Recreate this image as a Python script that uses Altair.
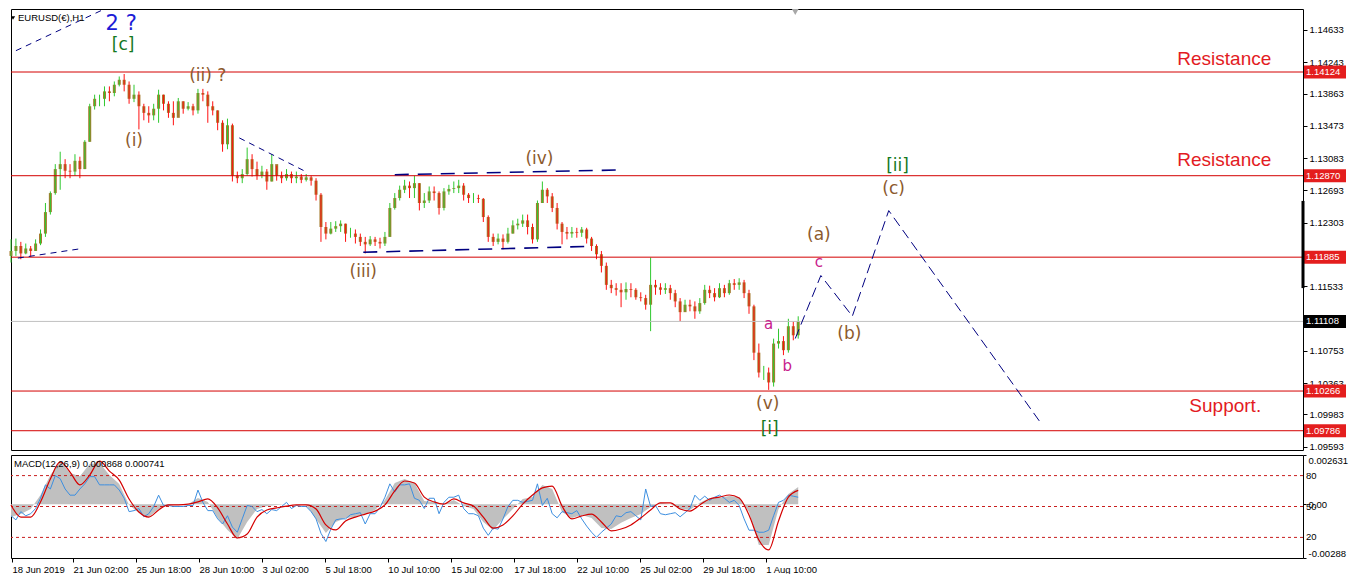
import json
import altair as alt
import pandas as pd

# ----------------------------------------------------------------- data
# EURUSD H1, condensed: one candle per 5 hours, hour index counted from 18 Jun 2019
HOURS_PER_CANDLE = 5
first_open = 1.1190
closes = [
    1.1196, 1.1202, 1.1193, 1.1199, 1.1196, 1.1205, 1.1217, 1.1243, 1.1266, 1.1295,
    1.1301, 1.1293, 1.1292, 1.1305, 1.1295, 1.1328, 1.1371, 1.1380, 1.1380, 1.1389,
    1.1387, 1.1397, 1.1403, 1.1397, 1.1380, 1.1385, 1.1371, 1.1363, 1.1360, 1.1368,
    1.1385, 1.1374, 1.1363, 1.1357, 1.1377, 1.1368, 1.1371, 1.1366, 1.1387, 1.1385,
    1.1371, 1.1366, 1.1351, 1.1325, 1.1348, 1.1287, 1.1284, 1.1289, 1.1307, 1.1295,
    1.1287, 1.1292, 1.1280, 1.1301, 1.1287, 1.1284, 1.1289, 1.1284, 1.1286, 1.1282,
    1.1285, 1.1281, 1.1264, 1.1225, 1.1217, 1.1223, 1.1226, 1.1229, 1.1217, 1.1217,
    1.1213, 1.1207, 1.1204, 1.1210, 1.1207, 1.1205, 1.1213, 1.1248, 1.1260, 1.1270,
    1.1275, 1.1272, 1.1278, 1.1254, 1.1257, 1.1268, 1.1266, 1.1248, 1.1268, 1.1271,
    1.1272, 1.1275, 1.1264, 1.1260, 1.1260, 1.1259, 1.1237, 1.1213, 1.1207, 1.1211,
    1.1207, 1.1217, 1.1227, 1.1229, 1.1233, 1.1225, 1.1210, 1.1254, 1.1270, 1.1262,
    1.1248, 1.1229, 1.1219, 1.1217, 1.1219, 1.1218, 1.1222, 1.1211, 1.1202, 1.1192,
    1.1178, 1.1155, 1.1151, 1.1149, 1.1146, 1.1150, 1.1149, 1.1140, 1.1139, 1.1131,
    1.1155, 1.1152, 1.1149, 1.1151, 1.1145, 1.1135, 1.1122, 1.1131, 1.1129, 1.1123,
    1.1133, 1.1149, 1.1145, 1.1140, 1.1151, 1.1145, 1.1157, 1.1155, 1.1158, 1.1145,
    1.1129, 1.1073, 1.1049, 1.1049, 1.1037, 1.1084, 1.1087, 1.1076, 1.1105, 1.1094,
    1.1111,
]
highs = [
    1.1210, 1.1211, 1.1207, 1.1205, 1.1202, 1.1210, 1.1222, 1.1254, 1.1268, 1.1301,
    1.1316, 1.1307, 1.1301, 1.1313, 1.1310, 1.1330, 1.1374, 1.1385, 1.1385, 1.1395,
    1.1395, 1.1401, 1.1407, 1.1410, 1.1401, 1.1397, 1.1389, 1.1374, 1.1371, 1.1374,
    1.1391, 1.1385, 1.1377, 1.1377, 1.1381, 1.1377, 1.1376, 1.1374, 1.1392, 1.1392,
    1.1389, 1.1377, 1.1366, 1.1354, 1.1356, 1.1350, 1.1292, 1.1295, 1.1321, 1.1313,
    1.1304, 1.1299, 1.1295, 1.1313, 1.1299, 1.1292, 1.1295, 1.1292, 1.1292, 1.1289,
    1.1289, 1.1287, 1.1284, 1.1266, 1.1231, 1.1231, 1.1232, 1.1233, 1.1229, 1.1224,
    1.1222, 1.1217, 1.1213, 1.1214, 1.1213, 1.1212, 1.1219, 1.1254, 1.1266, 1.1275,
    1.1282, 1.1280, 1.1287, 1.1278, 1.1266, 1.1274, 1.1274, 1.1268, 1.1272, 1.1276,
    1.1280, 1.1282, 1.1278, 1.1266, 1.1266, 1.1264, 1.1260, 1.1239, 1.1217, 1.1217,
    1.1216, 1.1224, 1.1233, 1.1235, 1.1240, 1.1240, 1.1229, 1.1257, 1.1280, 1.1272,
    1.1266, 1.1254, 1.1231, 1.1225, 1.1225, 1.1224, 1.1225, 1.1224, 1.1213, 1.1204,
    1.1196, 1.1182, 1.1161, 1.1157, 1.1157, 1.1158, 1.1157, 1.1151, 1.1146, 1.1143,
    1.1188, 1.1161, 1.1157, 1.1157, 1.1155, 1.1149, 1.1139, 1.1137, 1.1137, 1.1135,
    1.1139, 1.1155, 1.1154, 1.1151, 1.1157, 1.1155, 1.1161, 1.1162, 1.1163, 1.1161,
    1.1149, 1.1131, 1.1084, 1.1057, 1.1055, 1.1090, 1.1102, 1.1093, 1.1114, 1.1111,
    1.1117,
]
lows = [
    1.1182, 1.1190, 1.1186, 1.1192, 1.1189, 1.1196, 1.1203, 1.1213, 1.1240, 1.1264,
    1.1270, 1.1284, 1.1284, 1.1287, 1.1284, 1.1295, 1.1328, 1.1367, 1.1371, 1.1371,
    1.1377, 1.1383, 1.1395, 1.1389, 1.1374, 1.1376, 1.1343, 1.1354, 1.1351, 1.1354,
    1.1351, 1.1366, 1.1357, 1.1348, 1.1366, 1.1362, 1.1366, 1.1360, 1.1362, 1.1377,
    1.1351, 1.1360, 1.1342, 1.1316, 1.1319, 1.1280, 1.1278, 1.1278, 1.1287, 1.1286,
    1.1282, 1.1284, 1.1270, 1.1280, 1.1281, 1.1278, 1.1281, 1.1278, 1.1278, 1.1278,
    1.1280, 1.1275, 1.1257, 1.1207, 1.1210, 1.1216, 1.1219, 1.1219, 1.1207, 1.1212,
    1.1205, 1.1202, 1.1193, 1.1202, 1.1202, 1.1199, 1.1202, 1.1213, 1.1246, 1.1257,
    1.1266, 1.1260, 1.1260, 1.1245, 1.1248, 1.1254, 1.1257, 1.1240, 1.1245, 1.1264,
    1.1266, 1.1266, 1.1257, 1.1254, 1.1254, 1.1254, 1.1231, 1.1207, 1.1202, 1.1204,
    1.1198, 1.1205, 1.1217, 1.1222, 1.1225, 1.1216, 1.1205, 1.1207, 1.1254, 1.1254,
    1.1243, 1.1222, 1.1204, 1.1210, 1.1212, 1.1212, 1.1213, 1.1205, 1.1196, 1.1186,
    1.1170, 1.1149, 1.1145, 1.1142, 1.1128, 1.1137, 1.1140, 1.1137, 1.1135, 1.1125,
    1.1099, 1.1143, 1.1143, 1.1144, 1.1137, 1.1128, 1.1111, 1.1123, 1.1123, 1.1114,
    1.1120, 1.1131, 1.1139, 1.1135, 1.1139, 1.1140, 1.1143, 1.1149, 1.1149, 1.1139,
    1.1120, 1.1064, 1.1043, 1.1040, 1.1028, 1.1032, 1.1078, 1.1070, 1.1073, 1.1088,
    1.1090,
]

# MACD(12,26,9): main (grey histogram) and signal (red), one value per 10 hours
MACD_STEP = 10
macd_main = [
    -0.00069, -0.00053, -0.00026, 0.00049, 0.00156, 0.00230, 0.00167, 0.00150, 0.00215, 0.00220,
    0.00156, 0.00108, -0.00004, -0.00047, -0.00069, -0.00026, -0.00004, -0.00004, 0.00000, 0.00033,
    0.00012, -0.00074, -0.00138, -0.00186, -0.00095, -0.00026, -0.00010, -0.00004, 0.00000, 0.00000,
    -0.00004, -0.00079, -0.00154, -0.00095, -0.00074, -0.00069, -0.00053, -0.00031, 0.00022, 0.00113,
    0.00135, 0.00113, 0.00017, 0.00012, 0.00000, 0.00022, -0.00010, -0.00026, -0.00095, -0.00138,
    -0.00079, -0.00026, 0.00028, 0.00038, 0.00103, 0.00081, -0.00042, -0.00074, -0.00058, -0.00074,
    -0.00128, -0.00133, -0.00100, -0.00074, -0.00053, -0.00015, 0.00007, 0.00000, -0.00026, -0.00031,
    0.00007, 0.00033, 0.00033, 0.00044, 0.00038, -0.00042, -0.00218, -0.00218, -0.00026, 0.00054,
    0.00092,
]
macd_signal = [
    -0.00004, -0.00069, -0.00069, 0.00012, 0.00135, 0.00226, 0.00172, 0.00103, 0.00156, 0.00230,
    0.00177, 0.00129, 0.00028, -0.00042, -0.00069, -0.00031, -0.00004, -0.00004, 0.00000, 0.00012,
    0.00028, -0.00020, -0.00106, -0.00181, -0.00160, -0.00069, -0.00031, -0.00020, -0.00010, -0.00004,
    -0.00004, -0.00026, -0.00111, -0.00138, -0.00090, -0.00069, -0.00053, -0.00037, -0.00004, 0.00071,
    0.00124, 0.00113, 0.00038, 0.00012, 0.00000, 0.00028, 0.00007, -0.00010, -0.00069, -0.00128,
    -0.00111, -0.00063, 0.00000, 0.00049, 0.00087, 0.00097, -0.00010, -0.00079, -0.00063, -0.00053,
    -0.00095, -0.00143, -0.00133, -0.00111, -0.00074, -0.00031, 0.00007, 0.00007, -0.00026, -0.00037,
    -0.00004, 0.00028, 0.00038, 0.00049, 0.00033, -0.00058, -0.00192, -0.00245, -0.00090, 0.00038,
    0.00074,
]
# 0-100 oscillator drawn in the same window (blue), one value per 5 hours
OSC_STEP = 5
osc_values = [
    41, 37, 45, 41, 43, 48, 58, 71, 67, 80,
    77, 67, 61, 61, 67, 72, 79, 79, 71, 71,
    71, 71, 66, 58, 45, 46, 48, 40, 43, 50,
    61, 51, 51, 50, 50, 50, 51, 51, 66, 54,
    46, 46, 38, 33, 41, 30, 25, 38, 51, 50,
    45, 47, 43, 47, 46, 50, 54, 48, 51, 50,
    50, 45, 38, 24, 16, 28, 37, 38, 38, 42,
    43, 44, 33, 43, 43, 49, 59, 72, 64, 71,
    71, 72, 58, 56, 48, 58, 58, 43, 54, 59,
    59, 61, 48, 43, 43, 41, 29, 22, 29, 28,
    38, 50, 56, 56, 54, 55, 56, 72, 51, 58,
    43, 39, 45, 44, 43, 46, 38, 31, 25, 20,
    25, 29, 33, 41, 40, 44, 45, 41, 37, 67,
    50, 51, 43, 42, 43, 44, 40, 44, 48, 61,
    56, 60, 56, 59, 61, 58, 54, 56, 51, 38,
    27, 27, 25, 25, 27, 41, 54, 56, 61, 60,
    59,
]
osc_levels = [80, 50, 20]

level_prices = [1.14124, 1.12870, 1.11885, 1.10266, 1.09786]
last_price = 1.11108
price_ticks = [1.14633, 1.14243, 1.13863, 1.13473, 1.13083, 1.12693, 1.12303,
               1.11533, 1.11143, 1.10753, 1.10363, 1.09983, 1.09593]
price_range = [1.09553, 1.14886]
macd_range = [-0.00288, 0.002631]
macd_axis_values = [0.002631, 0.0, -0.00288]
macd_axis_labels = ["0.002631", "0.00", "-0.00288"]
hour_range = [0, 1313]
date_tick_hours = [1, 63, 127, 191, 255, 319, 383, 447, 511, 575, 639, 703, 767]
date_tick_labels = ["18 Jun 2019", "21 Jun 02:00", "25 Jun 18:00", "28 Jun 10:00",
                    "3 Jul 02:00", "5 Jul 18:00", "10 Jul 10:00", "15 Jul 02:00",
                    "17 Jul 18:00", "22 Jul 10:00", "25 Jul 02:00", "29 Jul 18:00",
                    "1 Aug 10:00"]

wave_labels = ["2 ?", "[c]", "(ii) ?", "(i)", "(iii)", "(iv)", "(v)", "[i]",
               "a", "b", "c", "(a)", "(b)", "(c)", "[ii]"]
wave_hours = [112, 114, 200, 125, 358, 537, 769, 771, 770, 789, 821, 821, 852, 897, 901]
wave_prices = [1.14710, 1.14452, 1.14077, 1.13292, 1.11710, 1.13070, 1.10104, 1.09811,
               1.11077, 1.10573, 1.11827, 1.12155, 1.10960, 1.12706, 1.12987]
wave_degree = ["intermediate", "minor", "minute", "minute", "minute", "minute", "minute", "minor",
               "minuette", "minuette", "minuette", "minute", "minute", "minute", "minor"]

zone_labels = ["Resistance", "Resistance", "Support."]
zone_hours = [1233, 1233, 1234]
zone_prices = [1.14277, 1.13058, 1.10081]

line_ids = ["t1", "t1", "t2", "t2", "t3", "t3", "h1", "h1", "h2", "h2",
            "p", "p", "p", "p", "p"]
line_kinds = ["trend"] * 6 + ["channel"] * 4 + ["projection"] * 5
line_hours = [5, 95, 7, 73, 232, 298, 390, 620, 358, 588, 797, 823, 855, 892, 1045]
line_prices = [1.14382, 1.14886, 1.11874, 1.11991, 1.13327, 1.12929, 1.12882, 1.12940,
               1.11944, 1.12015, 1.10901, 1.11663, 1.11171, 1.12448, 1.09905]

scroll_marker = [1.12565, 1.11511]
shift_hour = [797]
symbol_title = ["EURUSD(€),H1"]
macd_title = ["MACD(12,26,9) 0.000868 0.000741"]

# ----------------------------------------------------------------- styles
W, H1, H2 = 1292, 441, 103
FONT = "Liberation Sans"
BROWN = "#a57b2e"
LEVEL_RED = "#d40000"
NAVY = "#000080"
dir_colors = {"up": "#2fc82f", "down": "#ff1010"}
degree_colors = {"intermediate": "#1c1cd6", "minor": "#14781e", "minute": "#8c5a2d", "minuette": "#c8208c"}
degree_sizes = {"intermediate": 21, "minor": 17, "minute": 17, "minuette": 15}
box_colors = {"level": "#e41e1e", "last": "#000000"}
line_widths = {"trend": 1.0, "channel": 1.6, "projection": 1.0}

# ----------------------------------------------------------------- tables
n = len(closes)
opens = [first_open] + closes[:-1]
candles = pd.DataFrame({
    "t": [i * HOURS_PER_CANDLE for i in range(n)],
    "open": opens, "high": highs, "low": lows, "close": closes,
})
candles["dir"] = ["up" if c >= o else "down" for o, c in zip(opens, closes)]
candles["wc"] = candles["dir"].map(dir_colors)

macd_df = pd.DataFrame({"t": [i * MACD_STEP for i in range(len(macd_main))],
                        "m": macd_main, "s": macd_signal})
osc_df = pd.DataFrame({"t": [i * OSC_STEP for i in range(len(osc_values))], "o": osc_values})
osc_lv = pd.DataFrame({"v": osc_levels})

waves = pd.DataFrame({"label": wave_labels, "t": wave_hours, "p": wave_prices, "degree": wave_degree})
waves["fs"] = waves["degree"].map(degree_sizes)
waves["col"] = waves["degree"].map(degree_colors)
zones = pd.DataFrame({"label": zone_labels, "t": zone_hours, "p": zone_prices})
lines = pd.DataFrame({"id": line_ids, "kind": line_kinds, "t": line_hours, "p": line_prices})
lines["sw"] = lines["kind"].map(line_widths)
levels = pd.DataFrame({"p": level_prices})
boxes = pd.DataFrame({"p": level_prices + [last_price],
                      "kind": ["level"] * len(level_prices) + ["last"]})
boxes["label"] = [f"{v:.5f}" for v in boxes["p"]]
boxes["col"] = boxes["kind"].map(box_colors)

# ----------------------------------------------------------------- encodings
x_scale = alt.Scale(domain=hour_range, nice=False, zero=False)
p_scale = alt.Scale(domain=price_range, nice=False, zero=False)
m_scale = alt.Scale(domain=macd_range, nice=False, zero=False)
o_scale = alt.Scale(domain=[0, 100], nice=False, zero=False)

price_axis = alt.Axis(orient="right", values=price_ticks, format=".5f", title=None, grid=False,
                      domain=False, tickSize=4, tickColor="black", labelColor="black",
                      labelFont=FONT, labelFontSize=9.5, labelPadding=2)
date_expr = "{}[indexof({}, datum.value)]".format(json.dumps(date_tick_labels), json.dumps(date_tick_hours))
date_axis = alt.Axis(values=date_tick_hours, labelExpr=date_expr, labelAlign="left", title=None,
                     grid=False, domain=False, tickSize=4, tickColor="black", labelColor="black",
                     labelFont=FONT, labelFontSize=9.5, labelPadding=2, labelFlush=False,
                     labelOverlap=False)
macd_expr = "{}[indexof({}, datum.value)]".format(json.dumps(macd_axis_labels), json.dumps(macd_axis_values))
macd_axis = alt.Axis(orient="right", values=macd_axis_values, labelExpr=macd_expr, title=None,
                     grid=False, domain=False, tickSize=3, tickColor="black", labelColor="black",
                     labelFont=FONT, labelFontSize=9.5, labelPadding=2, labelFlush=True)


def PX(f="t"):
    return alt.X(f"{f}:Q", scale=x_scale, axis=None)


def PY(f):
    return alt.Y(f"{f}:Q", scale=p_scale, axis=price_axis)


def DX(f="t"):
    return alt.X(f"{f}:Q", scale=x_scale, axis=date_axis)


# ----------------------------------------------------------------- main panel
body = alt.Chart(candles).mark_rule(strokeWidth=3, color=BROWN).encode(
    x=PX(), y=PY("open"), y2="close")
wick = alt.Chart(candles).mark_rule(strokeWidth=1).encode(
    x=PX(), y=PY("low"), y2="high", color=alt.Color("wc:N", scale=None))
level_rules = alt.Chart(levels).mark_rule(color=LEVEL_RED, strokeWidth=1).encode(y=PY("p"))
last_rule = alt.Chart(pd.DataFrame({"p": [last_price]})).mark_rule(color="#c0c0c0", strokeWidth=1).encode(y=PY("p"))
trend = alt.Chart(lines).mark_line(color=NAVY, clip=True).encode(
    x=PX(), y=PY("p"), detail="id:N",
    strokeDash=alt.StrokeDash("kind:N", scale=alt.Scale(domain=["trend", "channel", "projection"],
                                                          range=[[6, 5], [14, 9], [10, 5]]), legend=None),
    strokeWidth=alt.StrokeWidth("sw:Q", scale=None))
wave_text = alt.Chart(waves).mark_text(font="DejaVu Sans", align="center", baseline="middle").encode(
    x=PX(), y=PY("p"), text="label:N",
    color=alt.Color("col:N", scale=None),
    size=alt.Size("fs:Q", scale=None))
zone_text = alt.Chart(zones).mark_text(font=FONT, fontSize=19, color="#e31b23",
                                       align="center", baseline="middle").encode(
    x=PX(), y=PY("p"), text="label:N")
box = alt.Chart(boxes).mark_tick(orient="horizontal", thickness=13, size=42, opacity=1).encode(
    x=alt.value(W + 22), y=PY("p"), color=alt.Color("col:N", scale=None))
box_text = alt.Chart(boxes).mark_text(font=FONT, fontSize=9.5, color="white",
                                      align="left", baseline="middle").encode(
    x=alt.value(W + 3), y=PY("p"), text="label:N")
scroll = alt.Chart(pd.DataFrame({"a": [scroll_marker[0]], "b": [scroll_marker[1]]})).mark_rule(
    color="black", strokeWidth=3).encode(x=alt.value(W), y=PY("a"), y2="b")
shift = alt.Chart(pd.DataFrame({"t": shift_hour})).mark_point(
    shape="triangle-down", filled=True, color="#a8a8a8", size=45, opacity=1).encode(
    x=PX(), y=alt.value(3))
sym_tri = alt.Chart(pd.DataFrame({"s": symbol_title})).mark_point(
    shape="triangle-down", filled=True, color="black", size=18, opacity=1).encode(
    x=alt.value(2), y=alt.value(9))
sym_txt = alt.Chart(pd.DataFrame({"s": symbol_title})).mark_text(
    font=FONT, fontSize=9.5, color="black", align="left", baseline="middle").encode(
    x=alt.value(7), y=alt.value(9), text="s:N")

main = alt.layer(body, wick, level_rules, last_rule, trend, wave_text, zone_text,
                 box, box_text, scroll, shift, sym_tri, sym_txt).properties(width=W, height=H1)

# ----------------------------------------------------------------- MACD panel
area = alt.Chart(macd_df).mark_area(color="#c0c0c0", opacity=1).encode(
    x=DX(), y=alt.Y("m:Q", scale=m_scale, axis=macd_axis), y2=alt.datum(0))
lv = alt.Chart(osc_lv).mark_rule(color="#c81e1e", strokeDash=[3, 3], strokeWidth=1).encode(
    y=alt.Y("v:Q", scale=o_scale, axis=None))
lv_txt = alt.Chart(osc_lv).mark_text(font=FONT, fontSize=9.5, color="black",
                                     align="left", baseline="middle").encode(
    x=alt.value(W + 3), y=alt.Y("v:Q", scale=o_scale, axis=None), text="v:Q")
osc = alt.Chart(osc_df).mark_line(color="#3d8fe0", strokeWidth=1).encode(
    x=DX(), y=alt.Y("o:Q", scale=o_scale, axis=None))
sig = alt.Chart(macd_df).mark_line(color="#d40000", strokeWidth=1.2, interpolate="monotone").encode(
    x=DX(), y=alt.Y("s:Q", scale=m_scale, axis=None))
m_txt = alt.Chart(pd.DataFrame({"s": macd_title})).mark_text(
    font=FONT, fontSize=9.5, color="black", align="left", baseline="middle").encode(
    x=alt.value(3), y=alt.value(9), text="s:N")

macd = alt.layer(area, lv, osc, sig, lv_txt, m_txt).resolve_scale(y="independent").properties(
    width=W, height=H2)

chart = alt.vconcat(main, macd, spacing=2).resolve_scale(
    x="independent", y="independent").properties(
    padding=0, background="white").configure_view(stroke="black", strokeWidth=1)

chart.save("out.html", embed_options={"renderer": "svg", "actions": False})
